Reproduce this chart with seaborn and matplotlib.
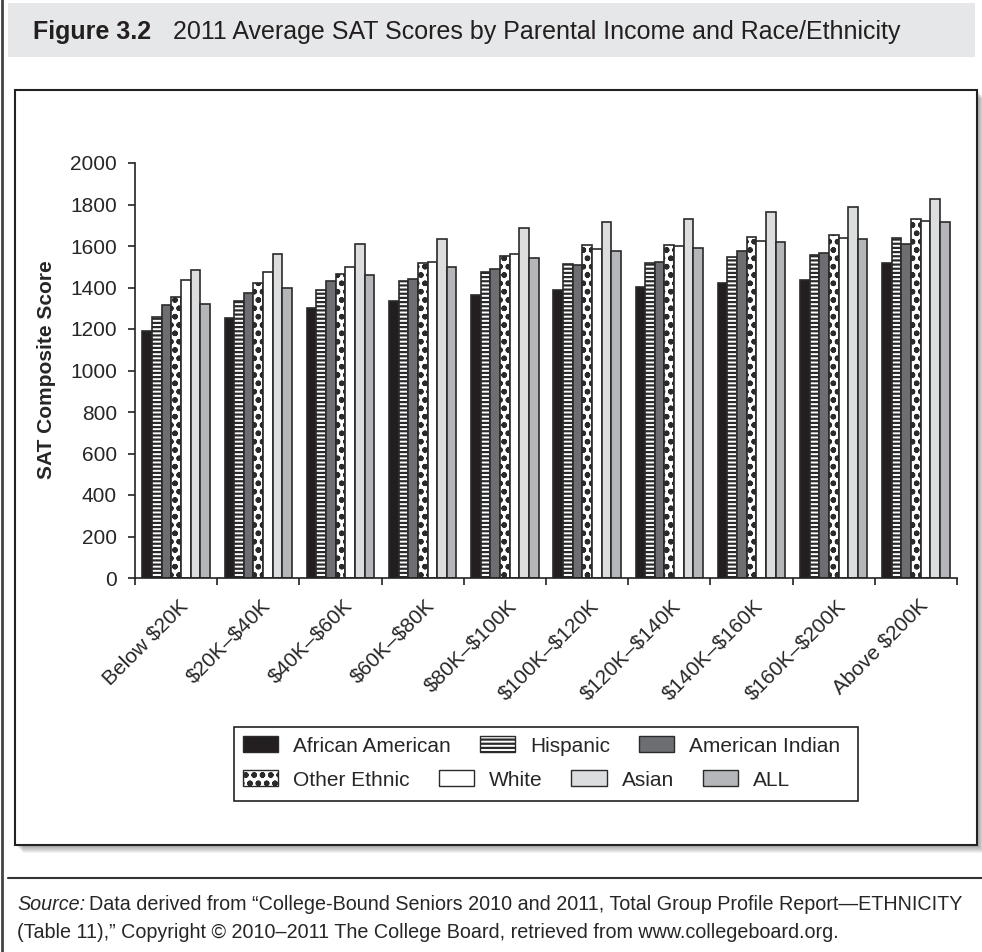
import numpy as np
import pandas as pd
import matplotlib
matplotlib.use("Agg")
import matplotlib.pyplot as plt
import matplotlib.patches as mpatches
import matplotlib.lines as mlines
import matplotlib.transforms as mtransforms
import seaborn as sns

# values
incomes = ['Below $20K', '$20K–$40K', '$40K–$60K', '$60K–$80K', '$80K–$100K',
           '$100K–$120K', '$120K–$140K', '$140K–$160K', '$160K–$200K', 'Above $200K']
groups = ['African American', 'Hispanic', 'American Indian', 'Other Ethnic', 'White', 'Asian', 'ALL']
african_american = [1191, 1253, 1300, 1335, 1365, 1389, 1404, 1423, 1436, 1517]
hispanic = [1259, 1336, 1388, 1430, 1475, 1513, 1517, 1546, 1558, 1639]
american_indian = [1314, 1375, 1430, 1440, 1489, 1507, 1521, 1575, 1566, 1611]
other_ethnic = [1354, 1422, 1465, 1517, 1553, 1606, 1605, 1643, 1653, 1730]
white = [1436, 1475, 1500, 1524, 1560, 1584, 1600, 1624, 1640, 1719]
asian = [1484, 1563, 1610, 1634, 1688, 1717, 1732, 1766, 1790, 1826]
all_students = [1322, 1398, 1462, 1500, 1542, 1576, 1590, 1619, 1634, 1717]
y_ticks = list(range(0, 2001, 200))

series = [african_american, hispanic, american_indian, other_ethnic, white, asian, all_students]
df = pd.DataFrame([(inc, g, v) for g, vals in zip(groups, series) for inc, v in zip(incomes, vals)],
                  columns=['income', 'group', 'score'])

colors = ['#231f20', '#ffffff', '#6d6e71', '#ffffff', '#ffffff', '#dcdddf', '#b5b6b9']
hatches = [None, '----', None, 'oo', None, None, None]
EDGE = '#2a2a2a'

sns.set_style("white")
plt.rcParams['font.family'] = ['Liberation Sans', 'DejaVu Sans']
plt.rcParams['text.parse_math'] = False
plt.rcParams['hatch.linewidth'] = 1.6

W, H = 982, 952
fig = plt.figure(figsize=(W / 100, H / 100), dpi=100)

def fx(x):
    return x / W

def fy(y):
    return 1 - y / H

# page decorations: left rule, title band, framed chart box with shadow (kept behind the axes)
fig.add_artist(mlines.Line2D([fx(2), fx(2)], [0, 1], color='#444444', lw=2, transform=fig.transFigure))
fig.add_artist(mpatches.Rectangle((fx(8), fy(57)), fx(975) - fx(8), fy(3) - fy(57),
                                  facecolor='#e6e7e8', edgecolor='none', transform=fig.transFigure))
for k in range(8, 0, -1):
    fig.add_artist(mpatches.Rectangle((fx(15 + k), fy(845 + k)), fx(977) - fx(15), fy(90) - fy(845),
                                      facecolor='#000000', alpha=0.05, edgecolor='none',
                                      transform=fig.transFigure, zorder=-10))
fig.add_artist(mpatches.Rectangle((fx(15), fy(845)), fx(977) - fx(15), fy(90) - fy(845),
                                  facecolor='white', edgecolor='#222222', lw=1.5,
                                  transform=fig.transFigure, zorder=-5))
fig.add_artist(mlines.Line2D([fx(8), 1], [fy(878), fy(878)], color='#333333', lw=1.5,
                             transform=fig.transFigure))

fig.text(fx(33), fy(32), 'Figure 3.2', fontsize=18, fontweight='bold', va='center', color='#231f20')
fig.text(fx(173), fy(32), '2011 Average SAT Scores by Parental Income and Race/Ethnicity', fontsize=18,
         va='center', color='#231f20')

ax = fig.add_axes([fx(135), fy(578), fx(957) - fx(135), fy(163) - fy(578)])
ax.set_facecolor('none')
sns.barplot(data=df, x='income', y='score', hue='group', palette=colors, width=0.82,
            edgecolor=EDGE, linewidth=1.2, saturation=1, legend=False, ax=ax)
for cont, h in zip(ax.containers, hatches):
    for bar in cont:
        if h:
            bar.set_hatch(h)

ax.set_ylim(0, 2000)
ax.set_xlim(-0.5, 9.5)
ax.set_yticks(y_ticks)
ax.set_xticks(np.arange(-0.5, 10, 1), minor=True)
ax.tick_params(axis='y', direction='out', length=5, width=1.2, color='#222', pad=8,
               labelsize=15, left=True)
ax.tick_params(axis='x', which='major', length=0, pad=13, labelsize=15)
ax.tick_params(axis='x', which='minor', direction='out', length=5, width=1.2, color='#222', bottom=True)
shift = mtransforms.ScaledTranslation(2 / 100, 0, fig.dpi_scale_trans)
for lab in ax.get_xticklabels():
    lab.set_rotation(45)
    lab.set_ha('right')
    lab.set_rotation_mode('anchor')
    lab.set_transform(lab.get_transform() + shift)
sns.despine(ax=ax)
for s in ['left', 'bottom']:
    ax.spines[s].set_linewidth(1.2)
    ax.spines[s].set_color('#222')
ax.set_xlabel('')
ax.set_ylabel('')
fig.text(fx(47), fy(370), 'SAT Composite Score', rotation=90, fontsize=15, fontweight='bold',
         ha='center', va='center')

# legend: two flowing rows inside one frame
handles = [mpatches.Patch(facecolor=c, edgecolor=EDGE, hatch=h, lw=1.0, label=g)
           for c, h, g in zip(colors, hatches, groups)]
common = dict(frameon=False, fontsize=15, handlelength=1.7, handleheight=0.8,
              handletextpad=0.7, columnspacing=1.4, borderpad=0, borderaxespad=0,
              loc='center left', bbox_transform=fig.transFigure)
fig.legend(handles=handles[:3], ncol=3, bbox_to_anchor=(fx(243), fy(746)), **common)
fig.legend(handles=handles[3:], ncol=4, bbox_to_anchor=(fx(243), fy(780)), **common)
fig.add_artist(mpatches.Rectangle((fx(234), fy(801)), fx(858) - fx(234), fy(727) - fy(801),
                                  facecolor='none', edgecolor='#222222', lw=1.2,
                                  transform=fig.transFigure))

# source note
t = fig.text(fx(17), fy(904), 'Source:', fontsize=14.2, style='italic', va='center')
fig.canvas.draw()
x_end = t.get_window_extent().x1
fig.text((x_end + 4) / W, fy(904),
         'Data derived from “College-Bound Seniors 2010 and 2011, Total Group Profile Report—ETHNICITY',
         fontsize=14.2, va='center')
fig.text(fx(17), fy(932), '(Table 11),” Copyright © 2010–2011 The College Board, retrieved from www.collegeboard.org.',
         fontsize=14.2, va='center')

fig.savefig('out.png', dpi=100)
